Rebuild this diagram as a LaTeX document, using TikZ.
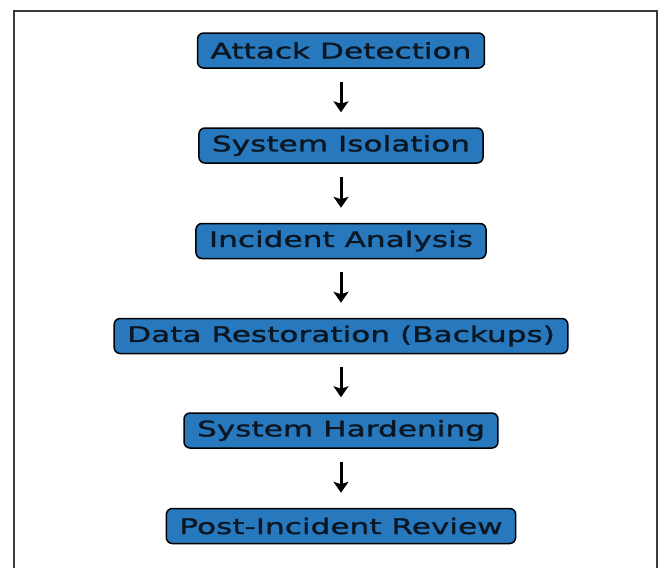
\documentclass[tikz,border=0pt]{standalone}
\usepackage{fontspec}
\setmainfont[FakeStretch=1.45, FakeBold=1.3]{DejaVu Sans}
\usetikzlibrary{arrows.meta}
\definecolor{boxblue}{HTML}{2878BE}
\definecolor{framegray}{HTML}{3A3A3A}
\definecolor{labelink}{HTML}{0A1622}
\tikzset{
  stepbox/.style={draw=black, line width=1.5pt, fill=boxblue, rounded corners=6pt,
    minimum height=35pt, inner xsep=13pt, inner ysep=0pt, text=labelink,
    font=\fontsize{21.5}{24}\selectfont, anchor=center},
  flow/.style={draw=black, line width=3pt,
    -{Stealth[length=11pt, width=15pt, inset=2.5pt]}},
}
\begin{document}
\begin{tikzpicture}[x=1pt, y=-1pt]
  \useasboundingbox (0,0) rectangle (662,568);
  % open frame: left, top and right sides
  \draw[framegray, line width=2pt] (14,568) -- (14,11) -- (657,11) -- (657,568);

  \node[stepbox] (s1) at (341,50.5)  {Attack Detection};
  \node[stepbox] (s2) at (341,145.5) {System Isolation};
  \node[stepbox] (s3) at (341,241)   {Incident Analysis};
  \node[stepbox] (s4) at (341,336)   {Data Restoration (Backups)};
  \node[stepbox] (s5) at (341,430.5) {System Hardening};
  \node[stepbox] (s6) at (341,526)   {Post-Incident Review};

  \foreach \a/\b in {s1/s2, s2/s3, s3/s4, s4/s5, s5/s6}
    \draw[flow] ([yshift=-13pt]\a.south) -- ([yshift=15pt]\b.north);
\end{tikzpicture}
\end{document}
